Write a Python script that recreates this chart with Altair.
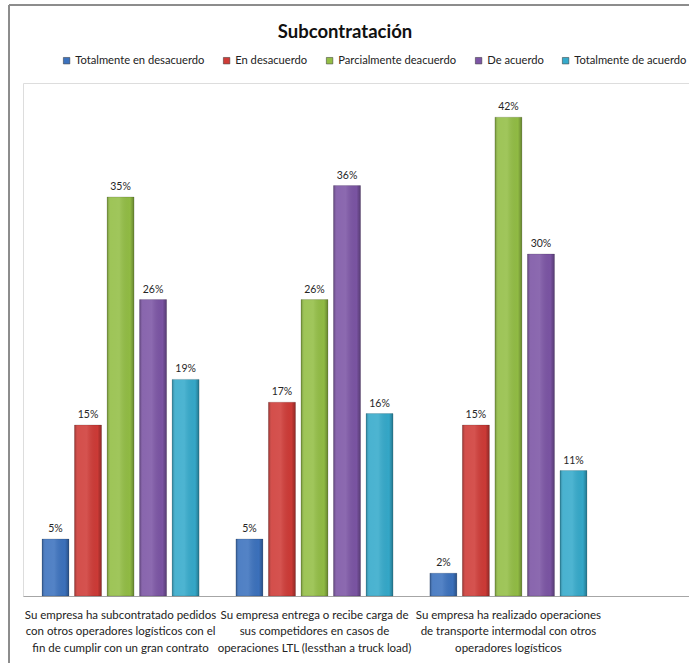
import altair as alt
import pandas as pd

categories = [
    "Su empresa ha subcontratado pedidos|con otros operadores logísticos con el|fin de cumplir con un gran contrato",
    "Su empresa entrega o recibe carga de|sus competidores en casos de|operaciones LTL (lessthan a truck load)",
    "Su empresa ha realizado operaciones|de transporte intermodal con otros|operadores logísticos",
]
series = [
    "Totalmente en desacuerdo",
    "En desacuerdo",
    "Parcialmente deacuerdo",
    "De acuerdo",
    "Totalmente de acuerdo",
]
values_totalmente_desacuerdo = [5, 5, 2]
values_desacuerdo = [15, 17, 15]
values_parcialmente = [35, 26, 42]
values_de_acuerdo = [26, 36, 30]
values_totalmente_acuerdo = [19, 16, 11]
colors = ["#3C72BE", "#CF3B37", "#93BE45", "#7C55A5", "#35AACB"]

all_values = [
    values_totalmente_desacuerdo,
    values_desacuerdo,
    values_parcialmente,
    values_de_acuerdo,
    values_totalmente_acuerdo,
]
rows = []
for s, vals in zip(series, all_values):
    for c, v in zip(categories, vals):
        rows.append({"cat": c, "serie": s, "valor": v, "etiqueta": f"{v}%"})
df = pd.DataFrame(rows)

FONT = "Lato, Liberation Sans, sans-serif"
W, H = 666, 513

x_enc = alt.X(
    "cat:N",
    sort=categories,
    scale=alt.Scale(domain=categories, paddingInner=0.19, paddingOuter=0.312, align=0.157),
    axis=alt.Axis(
        title=None,
        labelAngle=0,
        labelExpr="split(datum.label, '|')",
        labelFont=FONT,
        labelFontSize=11.5,
        labelColor="#222222",
        labelLimit=300,
        labelPadding=13,
        labelLineHeight=16.5,
        labelBaseline="top",
        ticks=False,
        domainColor="#a6a6a6",
        domainWidth=1,
        grid=False,
    ),
)
xoff = alt.XOffset("serie:N", sort=series, scale=alt.Scale(domain=series, paddingInner=0.17, paddingOuter=0))
y_enc = alt.Y("valor:Q", scale=alt.Scale(domain=[0, 45], nice=False, zero=True), axis=None)

base = alt.Chart(df)

frame = base.mark_rect(filled=False, stroke="#8c8c8c", strokeWidth=1).encode(
    x=alt.value(-14), x2=alt.value(W + 100), y=alt.value(-78), y2=alt.value(H + 120)
)

bars = base.mark_bar(stroke="#00000040", strokeWidth=0.6).encode(
    x=x_enc,
    xOffset=xoff,
    y=y_enc,
    color=alt.Color(
        "serie:N",
        sort=series,
        scale=alt.Scale(domain=series, range=colors),
        legend=alt.Legend(
            title=None,
            orient="none",
            legendX=38,
            legendY=-28,
            direction="horizontal",
            columns=5,
            columnPadding=16,
            symbolType="square",
            symbolSize=42,
            symbolStrokeWidth=0.5,
            symbolStrokeColor="#333333",
            labelFont=FONT,
            labelFontSize=11.2,
            labelColor="#222222",
            labelOffset=3,
            labelLimit=300,
        ),
    ),
)

shine = base.mark_bar(
    color=alt.Gradient(
        gradient="linear",
        x1=0, x2=1, y1=0, y2=0,
        stops=[
            alt.GradientStop(offset=0, color="rgba(0,0,0,0.28)"),
            alt.GradientStop(offset=0.12, color="rgba(255,255,255,0.10)"),
            alt.GradientStop(offset=0.45, color="rgba(255,255,255,0.12)"),
            alt.GradientStop(offset=0.85, color="rgba(0,0,0,0.02)"),
            alt.GradientStop(offset=1, color="rgba(0,0,0,0.30)"),
        ],
    )
).encode(x=x_enc, xOffset=xoff, y=y_enc)

labels = base.mark_text(
    baseline="bottom", dy=-5, font=FONT, fontSize=10.5, color="#262626"
).encode(x=x_enc, xOffset=xoff, y=y_enc, text="etiqueta:N")

chart = (
    alt.layer(frame, bars, shine, labels)
    .properties(
        width=W,
        height=H,
        autosize=alt.AutoSizeParams(type="none"),
        padding={"left": 23, "top": 83, "right": 0, "bottom": 67},
        title=alt.TitleParams(
            "Subcontratación",
            font=FONT,
            fontSize=18.5,
            fontWeight="bold",
            color="#111111",
            anchor="middle",
            dx=-11,
            offset=-37,
        ),
    )
    .configure_view(stroke=None)
    .configure(background="white")
)

chart.save("out.html", embed_options={"renderer": "svg", "actions": False})
